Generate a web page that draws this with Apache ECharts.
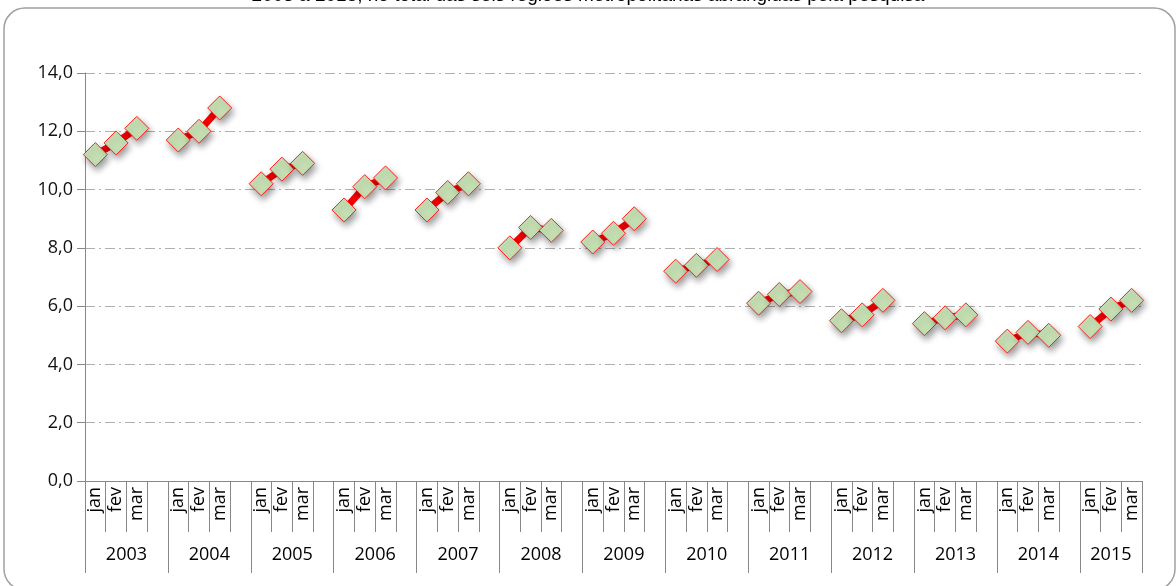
<!DOCTYPE html>
<html>
<head>
<meta charset="utf-8">
<script src="https://cdn.jsdelivr.net/npm/echarts@6/dist/echarts.min.js"></script>
<style>html,body{margin:0;padding:0;background:#fff;}#c{width:1176px;height:586px;}</style>
</head>
<body>
<div id="c"></div>
<script>
var years = ['2003','2004','2005','2006','2007','2008','2009','2010','2011','2012','2013','2014','2015'];
var months = ['jan','fev','mar'];
var janValues = [11.2, 11.7, 10.2, 9.3, 9.3, 8.0, 8.2, 7.2, 6.1, 5.5, 5.4, 4.8, 5.3];
var fevValues = [11.6, 12.0, 10.7, 10.1, 9.9, 8.7, 8.5, 7.4, 6.4, 5.7, 5.6, 5.1, 5.9];
var marValues = [12.1, 12.8, 10.9, 10.4, 10.2, 8.6, 9.0, 7.6, 6.5, 6.2, 5.7, 5.0, 6.2];
var yTicks = [0, 2, 4, 6, 8, 10, 12, 14];

var categories = [], data = [], yearBounds = [0], yearCenters = [];
years.forEach(function (y, i) {
  var start = categories.length;
  var vals = [janValues[i], fevValues[i], marValues[i]];
  months.forEach(function (m, k) { categories.push(m); data.push(vals[k]); });
  if (i < years.length - 1) { categories.push(''); data.push(null); }
  yearBounds.push(categories.length);
  yearCenters.push(start + (i < years.length - 1 ? 2 : 1.5));
});

var chart = echarts.init(document.getElementById('c'));
chart.setOption({
  animation: false,
  graphic: [
    { type: 'rect', shape: { x: 4, y: 8, width: 1171, height: 582, r: 21 },
      style: { fill: 'none', stroke: '#a0a0a0', lineWidth: 1.5 }, z: -1 },
    { type: 'text', x: 588, y: 5,
      style: { text: '2003 a 2015, no total das seis regiões metropolitanas abrangidas pela pesquisa',
        font: '19px "Liberation Sans", Arial, sans-serif', fill: '#000', align: 'center', verticalAlign: 'bottom' } }
  ],
  grid: { left: 85, right: 34, top: 73, bottom: 105 },
  xAxis: [{
    type: 'category', data: categories, boundaryGap: true,
    axisLine: { show: true, lineStyle: { color: '#888', width: 1 } },
    axisTick: { show: true, interval: 0, length: 51, alignWithLabel: false, lineStyle: { color: '#888' } },
    axisLabel: { interval: 0, rotate: 90, margin: 6, color: '#000', fontSize: 18,
      fontFamily: '"Open Sans", sans-serif' },
    splitLine: { show: false }
  }, {
    type: 'value', min: 0, max: categories.length, position: 'bottom',
    axisLine: { show: false },
    axisTick: { show: true, customValues: yearBounds, length: 92, lineStyle: { color: '#888' } },
    axisLabel: { customValues: yearCenters, margin: 65, color: '#000', fontSize: 18,
      fontFamily: '"Open Sans", sans-serif',
      formatter: function (v) { var i = yearCenters.indexOf(v); return i >= 0 ? years[i] : ''; } },
    splitLine: { show: false }
  }],
  yAxis: {
    type: 'value', min: 0, max: 14, interval: 2,
    axisLine: { show: true, lineStyle: { color: '#888' } },
    axisTick: { show: true, length: 8, lineStyle: { color: '#888' } },
    axisLabel: { margin: 12, color: '#111', fontSize: 18, fontFamily: '"Open Sans", sans-serif',
      formatter: function (v) { return yTicks.indexOf(v) >= 0 ? v.toFixed(1).replace('.', ',') : ''; } },
    splitLine: { show: true, lineStyle: { color: '#b0b0b0', width: 1.2, type: [10, 4, 2, 4] } }
  },
  series: [{
    type: 'line', data: data, xAxisIndex: 0, connectNulls: false,
    symbol: 'diamond', symbolSize: 24,
    lineStyle: { color: '#ff0000', width: 7 },
    itemStyle: { color: '#c6e0b4', borderColor: '#ff2020', borderWidth: 1,
      shadowBlur: 7, shadowColor: 'rgba(0,0,0,0.42)', shadowOffsetX: 2, shadowOffsetY: 4 }
  }]
});
</script>
</body>
</html>
